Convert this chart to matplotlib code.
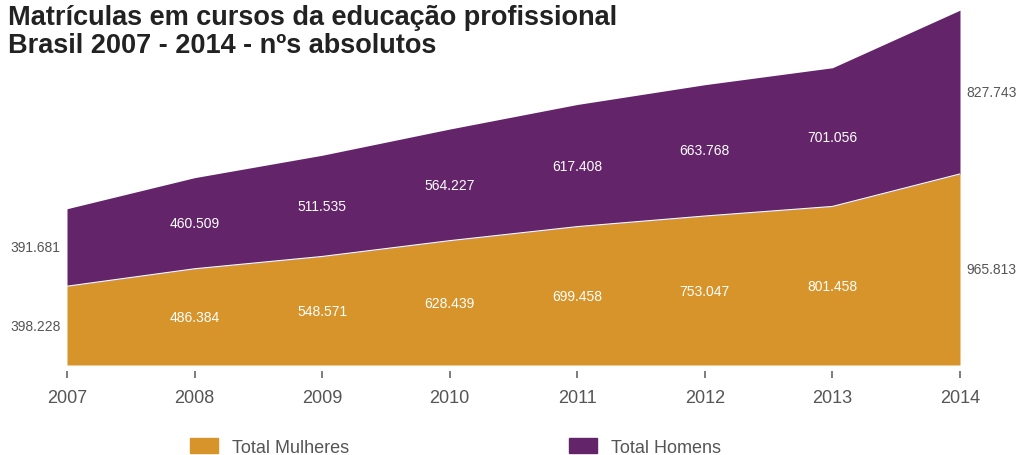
import matplotlib
matplotlib.use("Agg")
import matplotlib.pyplot as plt
from matplotlib.patches import Patch

plt.rcParams['font.family'] = ['Liberation Sans', 'DejaVu Sans']

anos = [2007, 2008, 2009, 2010, 2011, 2012, 2013, 2014]
mulheres = [398228, 486384, 548571, 628439, 699458, 753047, 801458, 965813]
homens = [391681, 460509, 511535, 564227, 617408, 663768, 701056, 827743]
series_nomes = ["Total Mulheres", "Total Homens"]

cor_mulheres = "#D6942A"
cor_homens = "#63246A"
cinza = "#555555"

def fmt(v):
    return f"{v:,}".replace(",", ".")

fig = plt.figure(figsize=(10.19, 4.56), dpi=100)
ax = fig.add_axes([67/1019, 90/456, (960-67)/1019, 366/456])

topo = [m + h for m, h in zip(mulheres, homens)]
ax.fill_between(anos, 0, mulheres, color=cor_mulheres, lw=0)
ax.fill_between(anos, mulheres, topo, color=cor_homens, lw=0)
ax.plot(anos, mulheres, color="white", lw=0.8)

ax.set_xlim(2007, 2014)
ax.set_ylim(0, 1850000)

# rótulos dentro das áreas
for i, a in enumerate(anos):
    m, h = mulheres[i], homens[i]
    if i == 0:
        kw = dict(ha="right", color=cinza, fontsize=10)
        x = a - 0.05
    elif i == len(anos) - 1:
        kw = dict(ha="left", color=cinza, fontsize=10)
        x = a + 0.05
    else:
        kw = dict(ha="center", color="white", fontsize=10)
        x = a
    ax.text(x, m / 2, fmt(m), va="center", **kw)
    ax.text(x, m + h / 2, fmt(h), va="center", **kw)

for s in ["left", "right", "top", "bottom"]:
    ax.spines[s].set_visible(False)
ax.spines["bottom"].set_position(("outward", 4))
ax.set_yticks([])
ax.set_xticks(anos)
ax.tick_params(axis="x", length=5, width=1.2, color="#666666", labelsize=13,
               labelcolor=cinza, pad=8)

fig.text(8/1019, 1 - 5/456, "Matrículas em cursos da educação profissional\nBrasil 2007 - 2014 - nºs absolutos",
         ha="left", va="top", fontsize=19.5, fontweight="bold", color="#222222", linespacing=1.1)

handles = [Patch(color=cor_mulheres), Patch(color=cor_homens)]
fig.legend(handles, series_nomes, loc="center left", bbox_to_anchor=(174/1019, 8/456),
           ncol=2, frameon=False, fontsize=13, labelcolor=cinza,
           handlelength=1.55, handleheight=0.85, handletextpad=0.75, columnspacing=12.2)

fig.savefig("out.png", dpi=100)
